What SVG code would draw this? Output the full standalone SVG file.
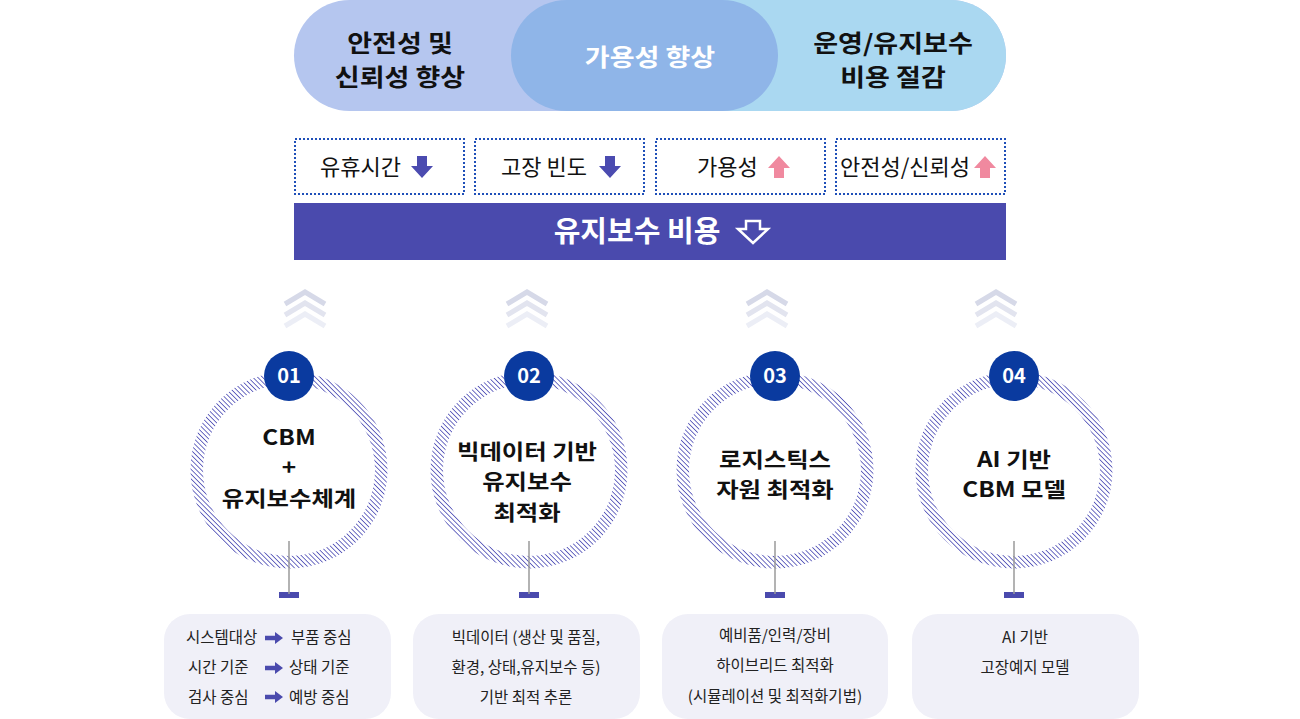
<svg xmlns="http://www.w3.org/2000/svg" width="1300" height="719" viewBox="0 0 1300 719">
<style>
.k{font-family:"Noto Sans CJK KR","Noto Sans",sans-serif}
.top{font-size:23.5px;font-weight:700;fill:#111;text-anchor:middle}
.kpi{font-size:22px;fill:#111}
.ct{font-size:21px;font-weight:700;fill:#111;text-anchor:middle}
.num{font-size:20px;font-weight:700;fill:#fff;text-anchor:middle}
.bt{font-size:15.5px;fill:#222}
.btc{font-size:15.5px;fill:#222;text-anchor:middle}
.dot{fill:none;stroke:#1f4fb8;stroke-width:2;stroke-dasharray:2 2}
.stem{stroke:#9a9a9a;stroke-width:1.5}
.bar{fill:#4a4aad}
.box{fill:#f0f0f8}
.ar{fill:#4a4aad}
</style>
<defs>
<pattern id="hatch" patternUnits="userSpaceOnUse" width="3.4" height="3.4" patternTransform="rotate(-45)">
<line x1="0" y1="0" x2="0" y2="3.4" stroke="#4a4ab4" stroke-width="1.6"/>
</pattern>
<g id="chev">
<polyline points="-20,16 0,4 20,16" fill="none" stroke="#d6d9e8" stroke-width="5"/>
<polyline points="-20,27 0,15 20,27" fill="none" stroke="#e2e4ef" stroke-width="5"/>
<polyline points="-20,38 0,26 20,38" fill="none" stroke="#eceef6" stroke-width="5"/>
</g>
<path id="dn" d="M-5,-11 H5 V-1 H11 L0,11 L-11,-1 H-5 Z"/>
<path id="up" d="M-5,11 H5 V1 H11 L0,-11 L-11,1 H-5 Z"/>
<path id="ra" d="M0,-2.2 H10 V-6 L18,0 L10,6 V2.2 H0 Z"/>
</defs>

<g id="banner">
<rect x="294" y="0" width="712" height="111" rx="55.5" fill="#b5c6ef"/>
<path d="M650,0 H950.5 A55.5,55.5 0 0 1 950.5,111 H650 Z" fill="#aad8f1"/>
<rect x="511" y="0" width="267" height="111" rx="55.5" fill="#8fb5e8"/>
<text class="k top" transform="translate(400,0) scale(1.15,1)"><tspan x="0" y="52">안전성 및</tspan><tspan x="0" y="86.5">신뢰성 향상</tspan></text>
<text class="k top" transform="translate(650,0) scale(1.15,1)" x="0" y="66" style="fill:#fff">가용성 향상</text>
<text class="k top" transform="translate(893,0) scale(1.15,1)"><tspan x="0" y="52">운영/유지보수</tspan><tspan x="0" y="86.5">비용 절감</tspan></text>
</g>

<g id="kpi1"><rect class="dot" x="295" y="139" width="169" height="55"/><text class="k kpi" x="320" y="175">유휴시간</text><use href="#dn" x="422" y="167" fill="#4b4bb0"/></g>
<g id="kpi2"><rect class="dot" x="475" y="139" width="169" height="55"/><text class="k kpi" x="501" y="175">고장 빈도</text><use href="#dn" x="610" y="167" fill="#4b4bb0"/></g>
<g id="kpi3"><rect class="dot" x="656" y="139" width="169" height="55"/><text class="k kpi" x="697" y="175">가용성</text><use href="#up" x="779" y="167" fill="#f0899f"/></g>
<g id="kpi4"><rect class="dot" x="836" y="139" width="169" height="55"/><text class="k kpi" x="840" y="175">안전성/신뢰성</text><use href="#up" x="985" y="167" fill="#f0899f"/></g>

<g id="costbar">
<rect x="294" y="203" width="712" height="57" fill="#4a4aad"/>
<text class="k" x="637" y="242" font-size="29" font-weight="700" fill="#fff" text-anchor="middle">유지보수 비용</text>
<path d="M746,221 H760 V229 H768 L753,243 L738,229 H746 Z" fill="none" stroke="#fff" stroke-width="2.5"/>
</g>

<g id="chevrons">
<use href="#chev" x="305" y="288"/>
<use href="#chev" x="527" y="288"/>
<use href="#chev" x="767" y="288"/>
<use href="#chev" x="996" y="288"/>
</g>

<g id="connectors">
<rect class="bar" x="279" y="592" width="20" height="6"/>
<rect class="bar" x="519" y="592" width="20" height="6"/>
<rect class="bar" x="765" y="592" width="20" height="6"/>
<rect class="bar" x="1004" y="592" width="20" height="6"/>
</g>

<g id="node1">
<circle cx="289" cy="470" r="98.5" fill="url(#hatch)"/>
<circle cx="289" cy="470" r="86" fill="#fff"/>
<line class="stem" x1="289" y1="541" x2="289" y2="594"/>
<circle cx="289" cy="376" r="25" fill="#0a3a9f"/>
<text class="k num" x="289" y="383">01</text>
<text class="k ct" transform="translate(289,0) scale(1.16,1)"><tspan x="0" y="445">CBM</tspan><tspan x="0" y="475.5">+</tspan><tspan x="0" y="506">유지보수체계</tspan></text>
</g>
<g id="node2">
<circle cx="529" cy="470" r="98.5" fill="url(#hatch)"/>
<circle cx="529" cy="470" r="86" fill="#fff"/>
<line class="stem" x1="529" y1="541" x2="529" y2="594"/>
<circle cx="529" cy="376" r="25" fill="#0a3a9f"/>
<text class="k num" x="529" y="383">02</text>
<text class="k ct" transform="translate(527,0) scale(1.16,1)"><tspan x="0" y="459">빅데이터 기반</tspan><tspan x="0" y="489.5">유지보수</tspan><tspan x="0" y="520">최적화</tspan></text>
</g>
<g id="node3">
<circle cx="775" cy="470" r="98.5" fill="url(#hatch)"/>
<circle cx="775" cy="470" r="86" fill="#fff"/>
<line class="stem" x1="775" y1="541" x2="775" y2="594"/>
<circle cx="775" cy="376" r="25" fill="#0a3a9f"/>
<text class="k num" x="775" y="383">03</text>
<text class="k ct" transform="translate(775,0) scale(1.16,1)"><tspan x="0" y="467">로지스틱스</tspan><tspan x="0" y="497.5">자원 최적화</tspan></text>
</g>
<g id="node4">
<circle cx="1014" cy="470" r="98.5" fill="url(#hatch)"/>
<circle cx="1014" cy="470" r="86" fill="#fff"/>
<line class="stem" x1="1014" y1="541" x2="1014" y2="594"/>
<circle cx="1014" cy="376" r="25" fill="#0a3a9f"/>
<text class="k num" x="1014" y="383">04</text>
<text class="k ct" transform="translate(1014,0) scale(1.16,1)"><tspan x="0" y="467">AI 기반</tspan><tspan x="0" y="497.5">CBM 모델</tspan></text>
</g>

<g id="box1">
<rect class="box" x="164" y="614" width="227" height="105" rx="26"/>
<text class="k bt" x="186" y="643">시스템대상</text>
<use href="#ra" class="ar" x="265" y="638"/>
<text class="k bt" x="291" y="643">부품 중심</text>
<text class="k bt" x="188" y="673">시간 기준</text>
<use href="#ra" class="ar" x="265" y="668"/>
<text class="k bt" x="289" y="673">상태 기준</text>
<text class="k bt" x="188" y="703">검사 중심</text>
<use href="#ra" class="ar" x="265" y="697"/>
<text class="k bt" x="289" y="703">예방 중심</text>
</g>
<g id="box2">
<rect class="box" x="413" y="614" width="227" height="105" rx="26"/>
<text class="k btc"><tspan x="526" y="643">빅데이터 (생산 및 품질,</tspan><tspan x="526" y="673">환경, 상태,유지보수 등)</tspan><tspan x="526" y="703">기반 최적 추론</tspan></text>
</g>
<g id="box3">
<rect class="box" x="662" y="614" width="226" height="105" rx="26"/>
<text class="k btc"><tspan x="775" y="641">예비품/인력/장비</tspan><tspan x="775" y="671">하이브리드 최적화</tspan><tspan x="775" y="702">(시뮬레이션 및 최적화기법)</tspan></text>
</g>
<g id="box4">
<rect class="box" x="912" y="614" width="227" height="105" rx="26"/>
<text class="k btc"><tspan x="1025" y="643">AI 기반</tspan><tspan x="1025" y="673">고장예지 모델</tspan></text>
</g>
</svg>
